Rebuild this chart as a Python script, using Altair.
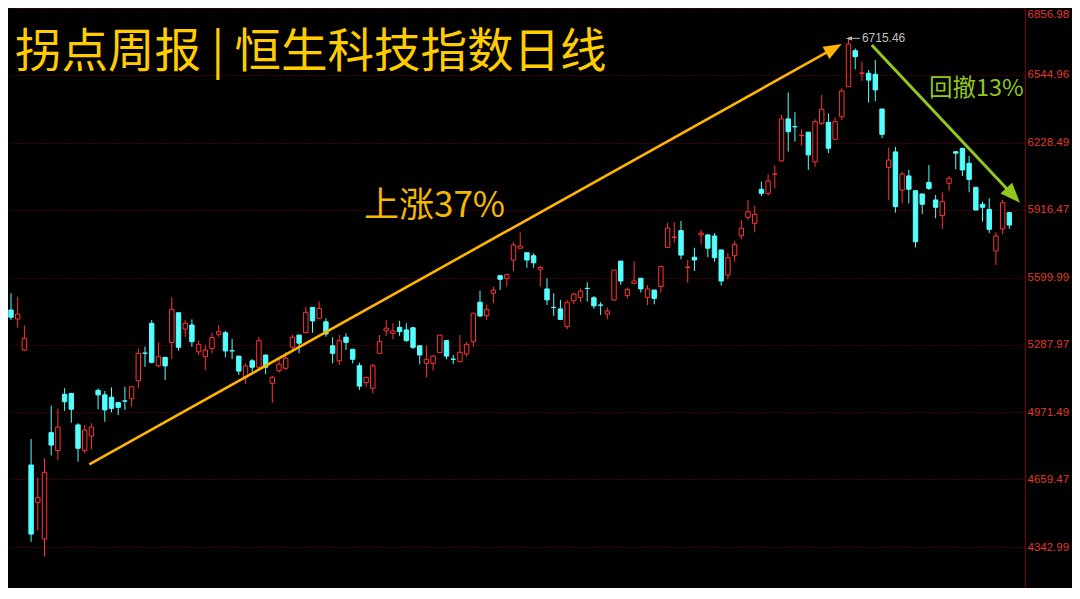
import altair as alt
import pandas as pd

# ---- candle data (index 0..150) ----
opens = [5444,5449,5407,5262,4726,4552,4381,4877,4793,5056,5060,4913,4793,4861,5074,5053,5042,5017,5025,5035,
         5119,5248,5387,5189,5228,5298,5436,5360,5379,5254,5231,5270,5336,5343,5259,5234,5135,5212,5182,5239,
         5107,5166,5177,5275,5332,5343,5461,5410,5394,5282,5212,5322,5266,5189,5110,5084,5247,5352,5340,5368,
         5356,5366,5282,5200,5200,5250,5306,5220,5208,5244,5301,5485,5422,5527,5609,5597,5682,5737,5716,5702,
         5639,5547,5461,5454,5371,5492,5508,5550,5506,5472,5430,5496,5677,5516,5573,5597,5508,5542,5558,5741,
         5788,5819,5648,5695,5799,5799,5794,5729,5612,5702,5795,5881,5853,6012,5993,6082,6144,6340,6304,6262,
         6278,6140,6319,6324,6245,6350,6490,6658,6553,6553,6548,6386,6114,6186,6008,6074,6005,5990,6044,5962,
         5889,6040,6187,6203,6133,6021,5942,5918,5724,5827,5903]
highs = [5477,5527,5511,5376,4847,4669,4757,5003,4990,5084,5060,4921,4913,4921,5084,5071,5088,5021,5091,5094,
         5270,5278,5402,5298,5228,5508,5436,5402,5405,5306,5286,5343,5379,5352,5314,5234,5200,5220,5324,5239,
         5141,5219,5254,5332,5332,5464,5461,5488,5410,5322,5332,5340,5266,5203,5135,5197,5332,5402,5387,5399,
         5387,5371,5282,5282,5239,5332,5309,5239,5332,5301,5436,5539,5475,5558,5609,5615,5765,5811,5716,5713,
         5654,5597,5527,5496,5496,5530,5550,5578,5514,5485,5461,5635,5677,5553,5677,5597,5566,5542,5654,5856,
         5858,5864,5682,5739,5822,5803,5807,5729,5716,5771,5869,5962,5934,6047,6082,6122,6358,6464,6371,6291,
         6280,6338,6451,6366,6347,6483,6715.46,6669,6607,6568,6615,6386,6206,6210,6094,6102,6008,5990,6125,5985,
         5998,6075,6187,6203,6167,6021,5954,5970,5811,5962,5907]
lows = [5343,5402,5366,5258,4368,4420,4299,4770,4749,4979,4923,4742,4781,4799,4986,4928,4972,4959,4983,4998,
        5084,5184,5200,5182,5122,5220,5259,5324,5278,5239,5169,5247,5324,5228,5220,5146,5104,5161,5169,5150,
        5017,5157,5169,5262,5247,5340,5343,5405,5324,5200,5192,5262,5200,5076,5091,5060,5247,5328,5312,5328,
        5301,5266,5196,5135,5166,5250,5219,5196,5208,5231,5278,5415,5402,5480,5542,5558,5631,5737,5646,5646,
        5558,5472,5421,5405,5359,5477,5485,5488,5454,5426,5405,5492,5566,5503,5573,5530,5472,5475,5530,5741,
        5763,5685,5576,5631,5755,5695,5674,5562,5593,5674,5778,5869,5811,5980,5982,6016,6140,6187,6234,6215,
        6102,6117,6312,6180,6242,6335,6490,6571,6517,6416,6423,6250,5962,5903,5946,5946,5741,5897,6008,5876,
        5827,6005,6105,6074,5998,5915,5861,5807,5659,5802,5827]
closes = [5402,5415,5430,5317,4404,4574,4692,4819,4903,5021,4986,4804,4889,4903,5053,4983,4990,4995,5024,5091,
          5247,5247,5205,5231,5188,5452,5275,5387,5301,5289,5262,5320,5348,5258,5258,5164,5188,5182,5306,5182,
          5135,5196,5224,5322,5294,5438,5398,5457,5337,5247,5306,5298,5219,5094,5135,5189,5301,5364,5351,5348,
          5306,5275,5239,5219,5234,5332,5234,5219,5252,5289,5434,5421,5452,5542,5592,5614,5752,5747,5682,5669,
          5648,5496,5460,5405,5485,5523,5537,5549,5468,5471,5444,5635,5584,5545,5584,5547,5547,5503,5652,5831,
          5789,5705,5649,5682,5807,5737,5693,5584,5693,5755,5830,5907,5895,5993,6050,6083,6340,6280,6303,6263,
          6172,6327,6385,6203,6327,6470,6689,6630,6554,6521,6475,6268,6148,5931,6083,6012,5767,5942,6016,5928,
          5954,6063,6180,6102,6058,5915,5928,5825,5794,5949,5845]

# ---- axis ticks ----
tick_values = [6856.98, 6544.96, 6228.49, 5916.47, 5599.99, 5287.97, 4971.49, 4659.47, 4342.99]

# ---- annotations (in data units: candle index, price) ----
up_arrow_idx = [12.69, 123.81]
up_arrow_val = [4729.4, 6668.8]
down_arrow_idx = [129.46, 150.57]
down_arrow_val = [6684.6, 5983.2]
peak_idx = [126.07, 127.7]
peak_val = 6715.46
peak_text = "6715.46"
title_text = "拐点周报 | 恒生科技指数日线"
up_text = "上涨37%"
down_text = "回撤13%"

CYAN = "#54FFFF"
RED = "#FF3333"
ORANGE = "#FFB400"
GREEN = "#92C81E"
GRID = "#8B0000"

df = pd.DataFrame({"i": list(range(len(opens))), "open": opens, "high": highs,
                   "low": lows, "close": closes})
df["dir"] = ["up" if c >= o else "down" for o, c in zip(opens, closes)]

xs = alt.Scale(domain=[0.5522, 152.34], nice=False, zero=False)
ys = alt.Scale(domain=[4152.6, 6857.1], nice=False, zero=False)
yaxis = alt.Axis(orient="right", values=tick_values, format=".2f", title=None,
                 grid=True, gridColor=GRID, gridDash=[1, 2], gridWidth=1,
                 domain=True, domainColor="#800000", domainWidth=1,
                 ticks=False, labelColor="#E03A2A", labelFont="Liberation Sans",
                 labelFontSize=11.5, labelPadding=2, labelFlush=3)

stroke_enc = alt.Stroke("dir:N", scale=alt.Scale(domain=["up", "down"], range=[RED, CYAN]), legend=None)
fill_enc = alt.Fill("dir:N", scale=alt.Scale(domain=["up", "down"], range=["#000000", CYAN]), legend=None)

base = alt.Chart(df)

wicks = base.mark_rule(strokeWidth=1).encode(
    x=alt.X("i:Q", scale=xs, axis=None),
    y=alt.Y("low:Q", scale=ys, axis=yaxis),
    y2="high:Q",
    stroke=stroke_enc,
)

bodies = base.transform_calculate(
    x0="datum.i - 0.33", x1="datum.i + 0.33"
).mark_rect(strokeWidth=1, fillOpacity=1).encode(
    x=alt.X("x0:Q", scale=xs, axis=None),
    x2="x1:Q",
    y=alt.Y("open:Q", scale=ys, axis=yaxis),
    y2="close:Q",
    stroke=stroke_enc,
    fill=fill_enc,
)

up_df = pd.DataFrame({"idx": up_arrow_idx, "val": up_arrow_val})
dn_df = pd.DataFrame({"idx": down_arrow_idx, "val": down_arrow_val})

up_line = alt.Chart(up_df).mark_line(color=ORANGE, strokeWidth=2.6).encode(
    x=alt.X("idx:Q", scale=xs, axis=None), y=alt.Y("val:Q", scale=ys, axis=yaxis))
up_head = alt.Chart(up_df.tail(1)).mark_point(
    shape="M0,-1L0.78,1L-0.78,1Z", size=324, angle=60.8, filled=True,
    color=ORANGE, opacity=1, strokeWidth=0).encode(
    x=alt.X("idx:Q", scale=xs, axis=None), y=alt.Y("val:Q", scale=ys, axis=yaxis))

dn_line = alt.Chart(dn_df).mark_line(color=GREEN, strokeWidth=3).encode(
    x=alt.X("idx:Q", scale=xs, axis=None), y=alt.Y("val:Q", scale=ys, axis=yaxis))
dn_head = alt.Chart(dn_df.tail(1)).mark_point(
    shape="M0,-1L0.8,1L-0.8,1Z", size=400, angle=136.8, filled=True,
    color=GREEN, opacity=1, strokeWidth=0).encode(
    x=alt.X("idx:Q", scale=xs, axis=None), y=alt.Y("val:Q", scale=ys, axis=yaxis))

pk_df = pd.DataFrame({"idx": peak_idx, "val": [peak_val, peak_val]})
pk_line = alt.Chart(pk_df).mark_line(color="#BBBBBB", strokeWidth=1).encode(
    x=alt.X("idx:Q", scale=xs, axis=None), y=alt.Y("val:Q", scale=ys, axis=yaxis))
pk_head = alt.Chart(pk_df.head(1)).mark_point(
    shape="M-1,0L1,-0.7L1,0.7Z", size=36, filled=True, color="#BBBBBB",
    opacity=1, strokeWidth=0).encode(
    x=alt.X("idx:Q", scale=xs, axis=None), y=alt.Y("val:Q", scale=ys, axis=yaxis))
pk_lbl = alt.Chart(pd.DataFrame({"idx": [peak_idx[1] + 0.3], "val": [peak_val], "t": [peak_text]})).mark_text(
    align="left", baseline="middle", font="Liberation Sans", fontSize=12, color="#C0C0C0").encode(
    x=alt.X("idx:Q", scale=xs, axis=None), y=alt.Y("val:Q", scale=ys, axis=yaxis), text="t:N")

title = alt.Chart(pd.DataFrame({"t": [title_text]})).mark_text(
    align="left", baseline="alphabetic", font="Noto Sans CJK SC", fontSize=46.5,
    color="#FFCC00").encode(x=alt.value(7), y=alt.value(59), text="t:N")
up_lbl = alt.Chart(pd.DataFrame({"t": [up_text]})).mark_text(
    align="left", baseline="alphabetic", font="Noto Sans CJK SC", fontSize=35,
    color="#F5B800").encode(x=alt.value(356), y=alt.value(208.5), text="t:N")
dn_lbl = alt.Chart(pd.DataFrame({"t": [down_text]})).mark_text(
    align="left", baseline="alphabetic", font="Noto Sans CJK SC", fontSize=23.5,
    color=GREEN).encode(x=alt.value(921), y=alt.value(87.5), text="t:N")

chart = alt.layer(
    wicks, bodies, up_line, up_head, dn_line, dn_head, pk_line, pk_head, pk_lbl,
    title, up_lbl, dn_lbl
).properties(
    width=1017, height=580,
    padding={"left": 0, "top": 0, "right": 47, "bottom": 0},
    autosize=alt.AutoSizeParams(type="none"),
    background="#000000",
).configure_view(stroke=None)

chart.save("out.html", embed_options={"renderer": "svg", "actions": False})
